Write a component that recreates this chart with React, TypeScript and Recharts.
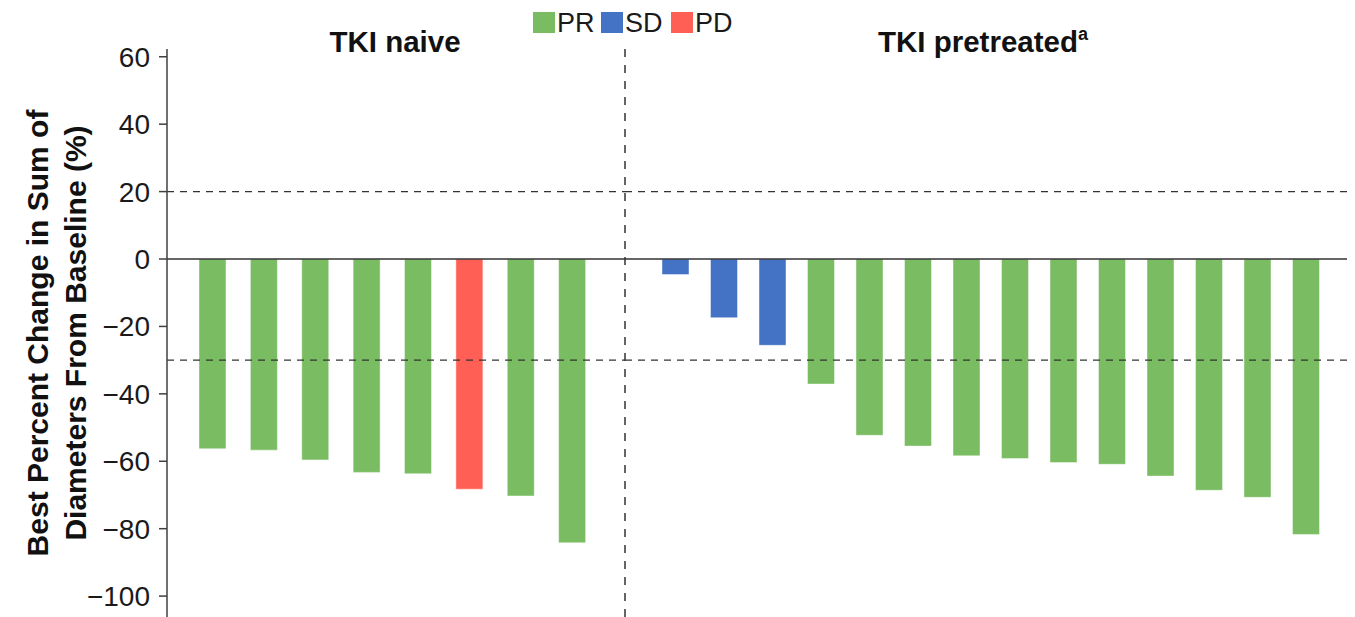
import React from "react";
import {
  BarChart,
  Bar,
  XAxis,
  YAxis,
  ReferenceLine,
  Cell,
} from "recharts";

// Best percent change per patient, split by prior TKI exposure
const naiveChange = [-56.3, -56.7, -59.6, -63.3, -63.7, -68.3, -70.3, -84.2];
const naiveResponse = ["PR", "PR", "PR", "PR", "PR", "PD", "PR", "PR"];

const pretreatedChange = [
  -4.6, -17.4, -25.6, -37.1, -52.3, -55.5, -58.4, -59.2, -60.4, -60.9, -64.4,
  -68.6, -70.7, -81.7,
];
const pretreatedResponse = [
  "SD", "SD", "SD", "PR", "PR", "PR", "PR", "PR", "PR", "PR", "PR", "PR",
  "PR", "PR",
];

const responseTypes = ["PR", "SD", "PD"];
const yTicks = [60, 40, 20, 0, -20, -40, -60, -80, -100];
const thresholds = [20, -30];

const COLORS: Record<string, string> = {
  PR: "#79bc62",
  SD: "#4472c4",
  PD: "#ff5f55",
};

const FONT = '"Liberation Sans", Arial, Helvetica, sans-serif';
const AXIS = "#404040";
const Y_DOMAIN: [number, number] = [-106.2, 62.3];
const HEIGHT = 617;
const TOP = 49;

const toRows = (values: number[], responses: string[], prefix: string) =>
  values.map((v, i) => ({ id: `${prefix}${i + 1}`, change: v, response: responses[i] }));

const naiveRows = toRows(naiveChange, naiveResponse, "n");
const pretreatedRows = toRows(pretreatedChange, pretreatedResponse, "p");

const formatTick = (v: number) => (v < 0 ? `\u2212${-v}` : `${v}`);

const AxisTitle = () => (
  <g fontFamily={FONT} fontWeight="bold" fontSize={30} fill="#111">
    <text x={37} y={333} textAnchor="middle" dominantBaseline="central" transform="rotate(-90 37 333)">
      Best Percent Change in Sum of
    </text>
    <text x={75} y={333} textAnchor="middle" dominantBaseline="central" transform="rotate(-90 75 333)">
      Diameters From Baseline (%)
    </text>
  </g>
);

const renderBars = (rows: { response: string }[]) => (
  <Bar
    dataKey="change"
    barSize={27}
    isAnimationActive={false}
    stroke="rgba(255,255,255,0.45)"
    strokeWidth={1}
  >
    {rows.map((r, i) => (
      <Cell key={`c-${i}`} fill={COLORS[r.response]} />
    ))}
  </Bar>
);

const renderRefLines = () => [
  ...thresholds.map((t) => (
    <ReferenceLine key={`t${t}`} y={t} stroke="#333" strokeWidth={1.3} strokeDasharray="7 6" />
  )),
  <ReferenceLine key="zero" y={0} stroke="#333" strokeWidth={1.5} />,
];

export default function App() {
  return (
    <div
      style={{
        position: "absolute",
        left: 0,
        top: 0,
        width: 1355,
        height: HEIGHT,
        background: "#fff",
        fontFamily: FONT,
        overflow: "hidden",
      }}
    >
      {/* TKI naive */}
      <div style={{ position: "absolute", left: 0, top: 0 }}>
        <BarChart
          width={625}
          height={HEIGHT}
          data={naiveRows}
          margin={{ top: TOP, right: 0, bottom: 0, left: 0 }}
        >
          <XAxis dataKey="id" hide padding={{ left: 20, right: 27 }} />
          <YAxis
            width={167}
            domain={Y_DOMAIN}
            ticks={yTicks}
            allowDataOverflow
            tickFormatter={formatTick}
            tickSize={8}
            tickMargin={9}
            tick={{ fontSize: 28, fill: "#1a1a1a", fontFamily: FONT }}
            axisLine={{ stroke: AXIS, strokeWidth: 1.5 }}
            tickLine={{ stroke: AXIS, strokeWidth: 1.5 }}
            label={{ content: () => <AxisTitle /> }}
          />
          {renderRefLines()}
          {renderBars(naiveRows)}
        </BarChart>
      </div>

      {/* TKI pretreated */}
      <div style={{ position: "absolute", left: 624, top: 0 }}>
        <BarChart
          width={731}
          height={HEIGHT}
          data={pretreatedRows}
          margin={{ top: TOP, right: 8, bottom: 0, left: 0 }}
        >
          <XAxis dataKey="id" hide padding={{ left: 26, right: 17 }} />
          <YAxis
            width={1}
            domain={Y_DOMAIN}
            ticks={yTicks}
            allowDataOverflow
            tick={false}
            tickLine={false}
            axisLine={{ stroke: "#333", strokeWidth: 1.5, strokeDasharray: "8 8" }}
          />
          {renderRefLines()}
          {renderBars(pretreatedRows)}
        </BarChart>
      </div>

      {/* group titles and response legend */}
      <svg
        width={1355}
        height={HEIGHT}
        style={{ position: "absolute", left: 0, top: 0, pointerEvents: "none" }}
        fontFamily={FONT}
      >
        <text x={395} y={52} textAnchor="middle" fontSize={29.5} fontWeight="bold" fill="#111">
          TKI naive
        </text>
        <text x={878} y={52} fontSize={29.5} fontWeight="bold" fill="#111">
          TKI pretreated
          <tspan fontSize={18} dy={-12}>a</tspan>
        </text>
        {responseTypes.map((r, i) => {
          const x = [533, 601, 671][i];
          return (
            <g key={r}>
              <rect x={x} y={12} width={22} height={21} fill={COLORS[r]} />
              <text x={x + 24} y={32} fontSize={27} fill="#1a1a1a">
                {r}
              </text>
            </g>
          );
        })}
      </svg>
    </div>
  );
}
